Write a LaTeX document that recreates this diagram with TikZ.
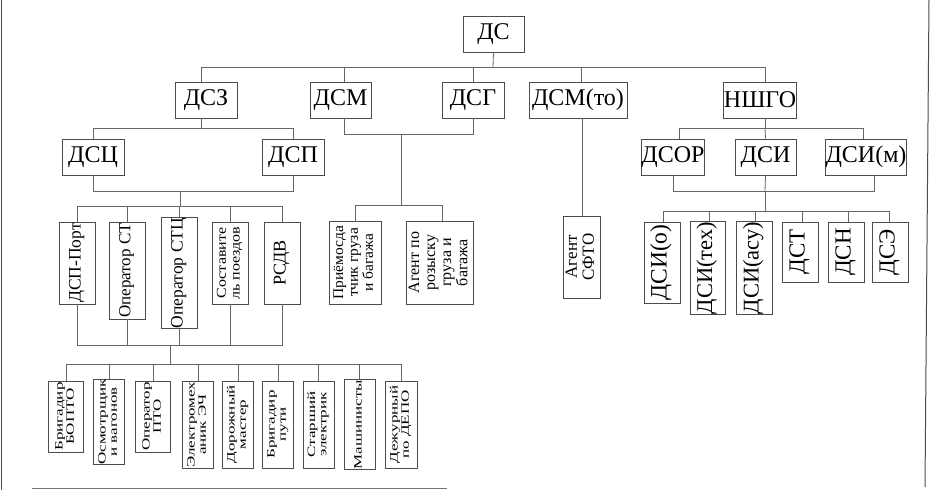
\documentclass[tikz,border=0pt]{standalone}
\usepackage{fontspec}
\setmainfont{Liberation Serif}
\usepackage{graphicx}
\newcommand{\vtxt}[3]{\rotatebox{90}{\scalebox{1}[#1]{\fontsize{#2}{#2}\selectfont\begin{tabular}{@{}c@{}}#3\end{tabular}}}}
\begin{document}
\begin{tikzpicture}[x=1pt,y=-1pt,
  box/.style={draw=black!70,line width=0.9pt,inner sep=0pt,fill=white},
  big/.style={font=\fontsize{24}{26}\selectfont},
  conn/.style={draw=black!60,line width=0.8pt},
  frame/.style={draw=black!70,line width=1pt}]
\useasboundingbox (0,0) rectangle (930,493);
% frame lines of the scan
\draw[frame] (1,0) -- (1,490);
\draw[frame] (929,0) -- (925,487);
\draw[draw=black!55,line width=0.9pt] (32,488) -- (447,488);

% level 0
\node[box,big,minimum width=61,minimum height=36] (ds) at (493.5,34) {ДС};
% level 1
\node[box,big,minimum width=62,minimum height=36] (dsz) at (206,100) {ДСЗ};
\node[box,big,minimum width=61,minimum height=36] (dsm) at (340.5,100) {ДСМ};
\node[box,big,minimum width=62,minimum height=36] (dsg) at (473,100) {ДСГ};
\node[box,big,minimum width=98,minimum height=36] (dsmto) at (578,100) {ДСМ(то)};
\node[box,big,minimum width=72,minimum height=36] (nshgo) at (760,100) {НШГО};
% level 2
\node[box,big,minimum width=62,minimum height=36] (dsc) at (93,157) {ДСЦ};
\node[box,big,minimum width=62,minimum height=36] (dsp) at (293,157) {ДСП};
\node[box,big,minimum width=62,minimum height=36] (dsor) at (673,157) {ДСОР};
\node[box,big,minimum width=61,minimum height=36] (dsi) at (765.5,157) {ДСИ};
\node[box,big,minimum width=76,minimum height=36] (dsim) at (866,157) {ДСИ(м)};

% row 2 left
\node[box,minimum width=36,minimum height=82] (dspport) at (77,263) {\vtxt{1}{17.5}{ДСП-Порт}};
\node[box,minimum width=36,minimum height=97] (opst) at (127,270.5) {\vtxt{1}{17}{Оператор СТ}};
\node[box,minimum width=36,minimum height=102] (opstc) at (179,273) {\vtxt{1}{17.5}{Оператор СТЦ}};
\node[box,minimum width=36,minimum height=82] (sost) at (230,263) {\vtxt{0.85}{16}{Составите\\ль поездов}};
\node[box,minimum width=36,minimum height=82] (rsdv) at (282,263) {\vtxt{1}{18}{РСДВ}};

% row 2 middle
\node[box,minimum width=52,minimum height=83] (priem) at (355,262.5) {\vtxt{0.95}{15.5}{Приёмосда\\тчик груза\\и багажа}};
\node[box,minimum width=67,minimum height=83] (agent) at (440,262.5) {\vtxt{1}{16}{Агент по\\розыску\\груза и\\багажа}};
\node[box,minimum width=37,minimum height=82] (sfto) at (582,257) {\vtxt{1}{17}{Агент\\СФТО}};

% row 2 right
\node[box,minimum width=36,minimum height=81] (dsio) at (662,262.5) {\vtxt{1}{23.5}{ДСИ(о)}};
\node[box,minimum width=35,minimum height=92] (dsitex) at (707.5,268) {\vtxt{1}{22.5}{ДСИ(тех)}};
\node[box,minimum width=36,minimum height=92] (dsiasu) at (754,268) {\vtxt{1}{22.5}{ДСИ(асу)}};
\node[box,minimum width=36,minimum height=60] (dst) at (800,252) {\vtxt{1}{23}{ДСТ}};
\node[box,minimum width=36,minimum height=60] (dsn) at (846,252) {\vtxt{1}{23}{ДСН}};
\node[box,minimum width=36,minimum height=60] (dse) at (890,252) {\vtxt{1}{23}{ДСЭ}};

% row 3
\node[box,minimum width=35,minimum height=71] (r1) at (66,416.5) {\vtxt{0.66}{17}{Бригадир\\БОПТО}};
\node[box,minimum width=31,minimum height=82] (r2) at (109,422) {\vtxt{0.66}{17}{Осмотрщик\\и вагонов}};
\node[box,minimum width=35,minimum height=71] (r3) at (153,416.5) {\vtxt{0.66}{17}{Оператор\\ПТО}};
\node[box,minimum width=31,minimum height=87] (r4) at (198,424.5) {\vtxt{0.66}{17}{Электромех\\аник ЭЧ}};
\node[box,minimum width=31,minimum height=87] (r5) at (238,424.5) {\vtxt{0.66}{17}{Дорожный\\мастер}};
\node[box,minimum width=31,minimum height=87] (r6) at (278,424.5) {\vtxt{0.66}{17}{Бригадир\\пути}};
\node[box,minimum width=31,minimum height=87] (r7) at (318.5,424.5) {\vtxt{0.66}{17}{Старший\\электрик}};
\node[box,minimum width=31,minimum height=87] (r8) at (359.5,424.5) {\vtxt{0.66}{17}{Машинисты}};
\node[box,minimum width=32,minimum height=87] (r9) at (401,424.5) {\vtxt{0.66}{17}{Дежурный\\по ДЕПО}};

% bus points
\coordinate (bA) at (493,67);
\coordinate (bB) at (201,128);
\coordinate (bC) at (180,191);
\coordinate (bD) at (180,206);
\coordinate (bE) at (170,345);
\coordinate (bF) at (170,364);
\coordinate (bG) at (401,134);
\coordinate (bH) at (401,205);
\coordinate (bJ) at (765,128);
\coordinate (bK) at (765,191);
\coordinate (bL) at (765,211);

% DS
\draw[conn] (ds.south) -- (bA);
\draw[conn] ([xshift=-5]dsz.north) |- (bA);
\draw[conn] ([xshift=3.5]dsm.north) |- (bA);
\draw[conn] (dsg.north) |- (bA);
\draw[conn] ([xshift=3]dsmto.north) |- (bA);
\draw[conn] ([xshift=5]nshgo.north) |- (bA);
% DSZ
\draw[conn] ([xshift=-5]dsz.south) -- (bB);
\draw[conn] (dsc.north) |- (bB);
\draw[conn] (dsp.north) |- (bB);
\draw[conn] (dsc.south) |- (bC);
\draw[conn] (dsp.south) |- (bC);
\draw[conn] (bC) -- (bD);
\foreach \n in {dspport,opst,opstc,sost,rsdv}{
  \draw[conn] (\n.north) |- (bD);
  \draw[conn] (\n.south) |- (bE);
}
\draw[conn] (bE) -- (bF);
\foreach \n in {r1,r2,r3,r4,r5,r6,r7,r8,r9}{
  \draw[conn] (\n.north) |- (bF);
}
% DSM / DSG
\draw[conn] ([xshift=3.5]dsm.south) |- (bG);
\draw[conn] (dsg.south) |- (bG);
\draw[conn] (bG) -- (bH);
\draw[conn] (priem.north) |- (bH);
\draw[conn] ([xshift=2]agent.north) |- (bH);
% DSM(to)
\draw[conn] (sfto.north) -- (sfto.north |- dsmto.south);
% NSHGO
\draw[conn] ([xshift=5]nshgo.south) -- (bJ);
\draw[conn] ([xshift=6]dsor.north) |- (bJ);
\draw[conn] (dsi.north) -- (bJ);
\draw[conn] ([xshift=-3]dsim.north) |- (bJ);
\draw[conn] (dsor.south) |- (bK);
\draw[conn] ([xshift=8]dsim.south) |- (bK);
\draw[conn] (dsi.south) -- (bK);
\draw[conn] (bK) -- (bL);
\foreach \n/\s in {dsio/1,dsitex/1.5,dsiasu/1,dst/2,dsn/2,dse/-1}{
  \draw[conn] ([xshift=\s]\n.north) |- (bL);
}
\end{tikzpicture}
\end{document}
